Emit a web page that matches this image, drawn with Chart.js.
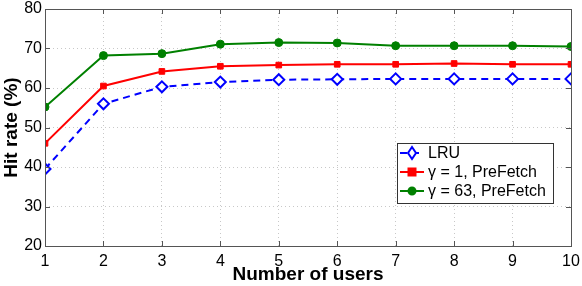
<!DOCTYPE html>
<html>
<head>
<meta charset="utf-8">
<script src="https://cdn.jsdelivr.net/npm/chart.js@4.4.0/dist/chart.umd.min.js"></script>
<style>
  html, body { margin: 0; padding: 0; background: #fff; }
  #wrap { width: 582px; height: 286px; }
</style>
</head>
<body>
<div id="wrap"><canvas id="hitChart" width="582" height="286"></canvas></div>
<script>
// Dados
const users = [1, 2, 3, 4, 5, 6, 7, 8, 9, 10];
const lruHit = [39.5, 56.0, 60.3, 61.5, 62.1, 62.2, 62.3, 62.3, 62.3, 62.3];
const preFetch1 = [46.0, 60.5, 64.2, 65.5, 65.8, 66.0, 66.0, 66.2, 66.0, 66.0];
const preFetch63 = [55.2, 68.2, 68.7, 71.1, 71.5, 71.4, 70.7, 70.7, 70.7, 70.5];
const yTicks = [20, 30, 40, 50, 60, 70, 80];
const seriesLabels = ['LRU', 'γ = 1, PreFetch', 'γ = 63, PreFetch'];

const FONT = 'Liberation Sans, Arial, Helvetica, sans-serif';
const COLORS = { lru: '#0000ff', p1: '#ff0000', p63: '#008000', frame: '#555555', grid: '#c8c8c8' };

function toPoints(values) {
    return users.map((u, i) => ({ x: u, y: values[i] }));
}

// moldura, ticks internos e legenda dentro da área
const framePlugin = {
    id: 'frame',
    afterDatasetsDraw(chart) {
        const ctx = chart.ctx;
        const a = chart.chartArea;
        const xs = chart.scales.x, ys = chart.scales.y;
        ctx.save();
        ctx.strokeStyle = COLORS.frame;
        ctx.lineWidth = 1;
        ctx.strokeRect(a.left + 0.5, a.top + 0.5, a.right - a.left, a.bottom - a.top);
        ctx.beginPath();
        users.forEach(u => {
            const px = Math.round(xs.getPixelForValue(u)) + 0.5;
            ctx.moveTo(px, a.bottom); ctx.lineTo(px, a.bottom - 5);
            ctx.moveTo(px, a.top); ctx.lineTo(px, a.top + 5);
        });
        yTicks.forEach(v => {
            const py = Math.round(ys.getPixelForValue(v)) + 0.5;
            ctx.moveTo(a.left, py); ctx.lineTo(a.left + 5, py);
            ctx.moveTo(a.right, py); ctx.lineTo(a.right - 5, py);
        });
        ctx.stroke();

        // legenda
        const bx = 397.5, by = 143.5, bw = 156, bh = 60;
        ctx.fillStyle = '#fff';
        ctx.fillRect(bx, by, bw, bh);
        ctx.strokeStyle = '#333';
        ctx.strokeRect(bx, by, bw, bh);
        const ds = chart.data.datasets;
        const rows = [153, 172, 191];
        ds.forEach((d, i) => {
            const y = rows[i];
            ctx.strokeStyle = d.borderColor;
            ctx.lineWidth = 2;
            ctx.setLineDash(d.borderDash || []);
            ctx.beginPath();
            ctx.moveTo(400, y); ctx.lineTo(424, y);
            ctx.stroke();
            ctx.setLineDash([]);
            ctx.fillStyle = d.pointBackgroundColor;
            ctx.strokeStyle = d.borderColor;
            ctx.beginPath();
            if (d.pointStyle === 'circle') ctx.arc(412, y, 3.5, 0, Math.PI * 2);
            else if (d.pointStyle === 'rect') ctx.rect(408.5, y - 3.5, 7, 7);
            else { ctx.moveTo(412, y - 6); ctx.lineTo(416, y); ctx.lineTo(412, y + 6); ctx.lineTo(408, y); ctx.closePath(); }
            ctx.fill();
            ctx.stroke();
            ctx.fillStyle = '#000';
            ctx.font = '16px ' + FONT;
            ctx.textBaseline = 'middle';
            ctx.textAlign = 'left';
            ctx.fillText(d.label, 428, y + 1);
        });
        ctx.restore();
    }
};

const config = {
    type: 'line',
    data: {
        datasets: [{
            label: seriesLabels[0],
            data: toPoints(lruHit),
            borderColor: COLORS.lru,
            borderWidth: 2,
            borderDash: [7, 5],
            pointStyle: 'rectRot',
            pointRadius: 5.5,
            pointBorderWidth: 2,
            pointBackgroundColor: '#fff',
            pointBorderColor: COLORS.lru
        }, {
            label: seriesLabels[1],
            data: toPoints(preFetch1),
            borderColor: COLORS.p1,
            borderWidth: 2,
            pointStyle: 'rect',
            pointRadius: 4,
            pointBorderWidth: 1,
            pointBackgroundColor: COLORS.p1,
            pointBorderColor: COLORS.p1
        }, {
            label: seriesLabels[2],
            data: toPoints(preFetch63),
            borderColor: COLORS.p63,
            borderWidth: 2,
            pointStyle: 'circle',
            pointRadius: 4,
            pointBorderWidth: 1,
            pointBackgroundColor: COLORS.p63,
            pointBorderColor: COLORS.p63
        }]
    },
    options: {
        responsive: false,
        animation: false,
        layout: { padding: { top: 9, right: 11, left: 0, bottom: 0 } },
        plugins: { legend: { display: false }, tooltip: { enabled: false } },
        elements: { line: { tension: 0 } },
        scales: {
            x: {
                type: 'linear',
                min: 1, max: 10,
                afterBuildTicks(scale) { scale.ticks = users.map(v => ({ value: v })); },
                afterFit(scale) { scale.height = 40; scale.paddingLeft = 0; scale.paddingRight = 0; },
                grid: { color: COLORS.grid, drawTicks: false },
                border: { display: false, dash: [1, 3] },
                ticks: { color: '#000', font: { family: FONT, size: 16 }, padding: 6, maxRotation: 0 },
                title: { display: true, text: 'Number of users', color: '#000', font: { family: FONT, size: 19, weight: 'bold' }, padding: { top: 0, bottom: 0 } }
            },
            y: {
                min: 20, max: 80,
                afterBuildTicks(scale) { scale.ticks = yTicks.map(v => ({ value: v })); },
                afterFit(scale) { scale.width = 45; scale.paddingTop = 0; scale.paddingBottom = 0; },
                grid: { color: COLORS.grid, drawTicks: false },
                border: { display: false, dash: [1, 3] },
                ticks: { color: '#000', font: { family: FONT, size: 16 }, padding: 3 },
                title: { display: true, text: 'Hit rate (%)', color: '#000', font: { family: FONT, size: 19, weight: 'bold' }, padding: { top: 0, bottom: 0 } }
            }
        }
    },
    plugins: [framePlugin]
};

new Chart(document.getElementById('hitChart').getContext('2d'), config);
</script>
</body>
</html>
